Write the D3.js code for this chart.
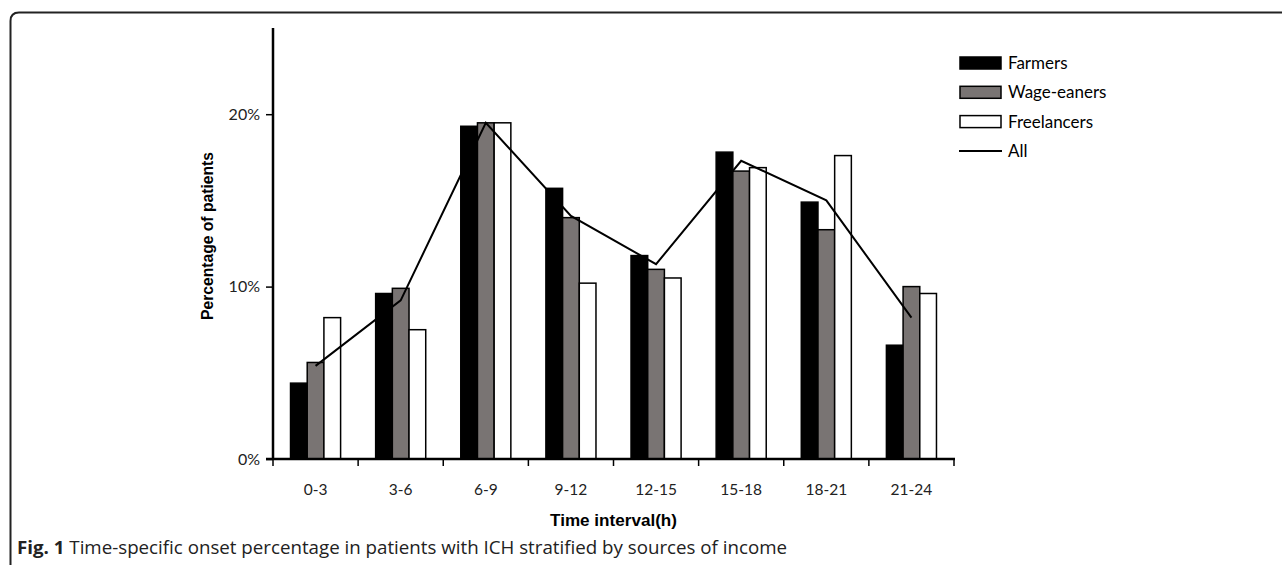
<!DOCTYPE html>
<html><head><meta charset="utf-8">
<script src="https://cdn.jsdelivr.net/npm/d3@7"></script>
<style>
html,body{margin:0;padding:0;background:#fff;}
svg{display:block;}
</style>
</head><body>
<svg id="chart" width="1282" height="565"></svg>
<script>
const categories = ["0-3","3-6","6-9","9-12","12-15","15-18","18-21","21-24"];
const seriesNames = ["Farmers","Wage-eaners","Freelancers"];
const farmers     = [4.4, 9.6, 19.3, 15.7, 11.8, 17.8, 14.9, 6.6];
const wageEarners = [5.6, 9.9, 19.5, 14.0, 11.0, 16.7, 13.3, 10.0];
const freelancers = [8.2, 7.5, 19.5, 10.2, 10.5, 16.9, 17.6, 9.6];
const allPatients = [5.4, 9.2, 19.5, 14.1, 11.3, 17.3, 15.0, 8.2];
const yTicks = [0, 10, 20];
const xTitle = "Time interval(h)";
const yTitle = "Percentage of patients";
const captionBold = "Fig. 1";
const captionText = " Time-specific onset percentage in patients with ICH stratified by sources of income";

const seriesValues = [farmers, wageEarners, freelancers];
const fills = ["#000000", "#797473", "#ffffff"];

const svg = d3.select("#chart");
const mLeft = 273, mRight = 954, mTop = 28, mBottom = 459;

// frame
svg.append("path")
  .attr("d", "M10.5,565 L10.5,21 Q10.5,12.5 19,12.5 L1282,12.5")
  .attr("fill", "none").attr("stroke", "#222").attr("stroke-width", 2);

const x = d3.scaleBand().domain(categories).range([mLeft, mRight]).padding(0);
const xs = d3.scaleBand().domain(seriesNames).range([0, x.bandwidth()]).paddingInner(0).paddingOuter(1.05);
const y = d3.scaleLinear().domain([0, 25]).range([mBottom, mTop]);

// bars
seriesNames.forEach((s, si) => {
  svg.append("g").selectAll("rect").data(categories).join("rect")
    .attr("x", c => x(c) + xs(s))
    .attr("y", (c, i) => y(seriesValues[si][i]))
    .attr("width", xs.bandwidth())
    .attr("height", (c, i) => y(0) - y(seriesValues[si][i]))
    .attr("fill", fills[si])
    .attr("stroke", "#000").attr("stroke-width", 1.5);
});

// line
const line = d3.line().x((d, i) => x(categories[i]) + x.bandwidth() / 2).y(d => y(d));
svg.append("path").datum(allPatients).attr("d", line)
  .attr("fill", "none").attr("stroke", "#000").attr("stroke-width", 2);

// y axis
const yAxis = d3.axisLeft(y).tickValues(yTicks).tickFormat(d => d + "%").tickSize(7).tickPadding(6).tickSizeOuter(0);
const gy = svg.append("g").attr("transform", `translate(${mLeft},0)`).call(yAxis);
gy.select(".domain").remove();
gy.selectAll(".tick line").attr("stroke", "#000").attr("stroke-width", 1.5);
gy.selectAll("text").attr("font-family", "Lato, 'Open Sans', sans-serif").attr("font-size", 16).attr("fill", "#222");
svg.append("line").attr("x1", mLeft).attr("x2", mLeft).attr("y1", y(25)).attr("y2", mBottom + 1)
  .attr("stroke", "#000").attr("stroke-width", 2.5);

// x axis labels
const xAxis = d3.axisBottom(x).tickSize(0).tickPadding(25);
const gx = svg.append("g").attr("transform", `translate(0,${mBottom})`).call(xAxis);
gx.select(".domain").remove();
gx.selectAll("text").attr("font-family", "Lato, 'Open Sans', sans-serif").attr("font-size", 15.5).attr("fill", "#222");
// x ticks at boundaries
const boundaries = categories.map(c => x(c)).concat([x(categories[categories.length - 1]) + x.bandwidth()]);
svg.append("g").selectAll("line").data(boundaries).join("line")
  .attr("x1", d => d).attr("x2", d => d).attr("y1", mBottom).attr("y2", mBottom + 7)
  .attr("stroke", "#000").attr("stroke-width", 1.5);
svg.append("line").attr("x1", mLeft - 7).attr("x2", mRight + 1).attr("y1", mBottom).attr("y2", mBottom)
  .attr("stroke", "#000").attr("stroke-width", 2.5);

// axis titles
svg.append("text").attr("x", (mLeft + mRight) / 2).attr("y", 526)
  .attr("text-anchor", "middle").attr("font-family", "'Liberation Sans', Arial, sans-serif")
  .attr("font-weight", "bold").attr("font-size", 16.5).attr("fill", "#000")
  .attr("textLength", 127).attr("lengthAdjust", "spacingAndGlyphs").text(xTitle);
svg.append("text").attr("transform", "translate(213,236) rotate(-90)")
  .attr("text-anchor", "middle").attr("font-family", "'Liberation Sans', Arial, sans-serif")
  .attr("font-weight", "bold").attr("font-size", 16).attr("fill", "#000")
  .attr("textLength", 168).attr("lengthAdjust", "spacingAndGlyphs").text(yTitle);

// legend
const legendNames = seriesNames.concat(["All"]);
const lg = svg.append("g");
legendNames.forEach((n, i) => {
  const cy = 63 + i * 29.3;
  if (i < 3) {
    lg.append("rect").attr("x", 960).attr("y", cy - 6).attr("width", 41).attr("height", 12)
      .attr("fill", fills[i]).attr("stroke", "#000").attr("stroke-width", 1.5);
  } else {
    lg.append("line").attr("x1", 959).attr("x2", 1002).attr("y1", cy).attr("y2", cy)
      .attr("stroke", "#000").attr("stroke-width", 2);
  }
  lg.append("text").attr("x", 1008).attr("y", cy).attr("dy", "0.35em")
    .attr("font-family", "Lato, 'Open Sans', sans-serif").attr("font-size", 17).attr("fill", "#000").text(n);
});

// caption
const cap = svg.append("text").attr("x", 17).attr("y", 554)
  .attr("font-family", "'Open Sans', sans-serif").attr("font-size", 18).attr("fill", "#222")
  .attr("textLength", 770).attr("lengthAdjust", "spacingAndGlyphs");
cap.append("tspan").attr("font-weight", "bold").text(captionBold);
cap.append("tspan").text(captionText);
</script>
</body></html>
